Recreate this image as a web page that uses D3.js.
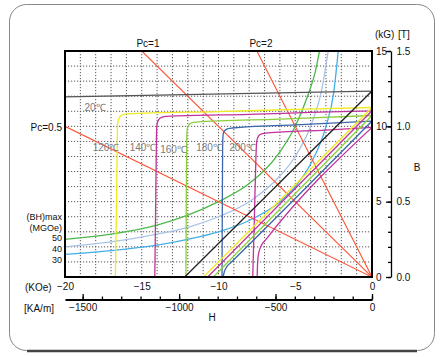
<!DOCTYPE html>
<html><head><meta charset="utf-8">
<script src="https://cdn.jsdelivr.net/npm/d3@7"></script>
<style>body{margin:0;background:#fff}svg{display:block;font-family:"Liberation Sans",Arial,sans-serif}</style>
</head><body><svg id="c" width="440" height="357"></svg>
<script>
// ---------- data (H in kOe, B in kG) ----------
const hTicksKOe = [-20, -15, -10, -5, 0];
const hTicksKAm = [-1500, -1000, -500, 0];
const hMinorKAm = d3.range(-1500, 1, 100);
const bTicksKG = [0, 5, 10, 15];
const bMinorKG = d3.range(0, 16, 1);
const bTicksT = [0.0, 0.5, 1.0, 1.5];
const temps = ["20℃", "120℃", "140℃", "160℃", "180℃", "200℃"];
const pcValues = [0.5, 1, 2];
const pcLabels = ["Pc=0.5", "Pc=1", "Pc=2"];
const bhValues = [50, 40, 30];

// intrinsic (J) curves
const j20  = [[-20, 11.96], [0, 12.34]];
const j120 = [[-16.72,0],[-16.64,5],[-16.59,9.5],[-16.57,10.2],[-16.45,10.6],[-16.25,10.76],[-15.95,10.83],[-10,10.98],[-5,11.12],[0,11.25]];
const j140 = [[-14.15,0],[-14.09,5],[-14.04,9.4],[-14.01,10.1],[-13.9,10.45],[-13.7,10.6],[-13.4,10.66],[-8,10.8],[-4,10.92],[0,11.03]];
const j160 = [[-12.12,0],[-12.1,5],[-12.07,9.0],[-12.04,9.8],[-11.93,10.1],[-11.75,10.23],[-11.45,10.28],[-6,10.48],[0,10.72]];
const j180 = [[-9.77,0],[-9.75,5],[-9.73,8.7],[-9.7,9.45],[-9.6,9.72],[-9.4,9.84],[-9.1,9.89],[-5,10.1],[0,10.35]];
const j200 = [[-7.77,0],[-7.66,4],[-7.56,8],[-7.51,9.0],[-7.4,9.35],[-7.2,9.5],[-6.8,9.56],[-3,9.75],[0,9.93]];

// normal (B) curves
const b20  = [[-12.2, 0], [0, 12.34]];
const b120 = [[-10.98, 0], [0, 11.25]];
const b140 = [[-10.7, 0], [0, 11.03]];
const b160 = [[-10.34, 0], [0, 10.72]];
const b180 = [[-9.7,0],[-9.62,0.35],[-9.45,0.7],[-9.2,0.95],[0,10.35]];
const b200 = [[-7.48,0],[-7.45,1.0],[-7.38,1.6],[-7.2,2.1],[-6.9,2.5],[0,9.93]];

// (BH)max iso-energy curves
const bh50 = [[-20,2.5],[-17,2.85],[-14,3.45],[-12,4.1],[-10,5.0],[-8,6.2],[-6,8.3],[-5,10.0],[-4.2,12.0],[-3.7,13.6],[-3.42,15]];
const bh40 = [[-20,2.0],[-17,2.33],[-14,2.85],[-12,3.3],[-10,4.0],[-8,5.0],[-6,6.7],[-5,8.0],[-4,10.0],[-3.3,12.3],[-2.85,15]];
const bh30 = [[-20,1.5],[-17,1.75],[-14,2.12],[-12,2.5],[-10,3.0],[-8,3.75],[-6,5.0],[-5,6.0],[-4,7.5],[-3,10.0],[-2.5,12.2],[-2.2,15]];

// ---------- layout / styles ----------
const L = 65, R = 372, T = 51, Bm = 277;
const svg = d3.select("#c");
const x = d3.scaleLinear().domain([-20, 0]).range([L, R]);
const y = d3.scaleLinear().domain([0, 15]).range([Bm, T]);
const xk = d3.scaleLinear().domain([-20 * 79.5775, 0]).range([L, R]);
const yT = d3.scaleLinear().domain([0, 1.5]).range([Bm, T]);

const red = "#ff5233", yellow = "#f0ea1e", magenta = "#c1339c", lgreen = "#8cce3c",
      dblue = "#3c66ae", grn = "#4cb848", lblue = "#a7c4e8", sky = "#42aee8";

// outer frame
svg.append("rect").attr("x", 9.5).attr("y", 4.5).attr("width", 425).attr("height", 346)
  .attr("rx", 17).attr("fill", "none").attr("stroke", "#888").attr("stroke-width", 1);
svg.append("path").attr("d", "M27,351H417").attr("stroke", "#444").attr("stroke-width", 2.5);

svg.append("clipPath").attr("id", "clip").append("rect")
  .attr("x", L).attr("y", T).attr("width", R - L).attr("height", Bm - T);

// grid
const grid = svg.append("g").attr("stroke", "#555").attr("stroke-dasharray", "1.2,1.8").attr("stroke-width", 1);
grid.selectAll("line.v").data(d3.range(-19, 0)).join("line")
  .attr("x1", d => x(d)).attr("x2", d => x(d)).attr("y1", T).attr("y2", Bm);
grid.selectAll("line.h").data(d3.range(1, 15)).join("line")
  .attr("x1", L).attr("x2", R).attr("y1", d => y(d)).attr("y2", d => y(d));

const plot = svg.append("g").attr("clip-path", "url(#clip)").attr("fill", "none").attr("stroke-width", 1.3);
const line = d3.line().x(d => x(d[0])).y(d => y(d[1])).curve(d3.curveMonotoneX);

// BH max curves
[[bh50, grn], [bh40, lblue], [bh30, sky]].forEach(([d, c]) =>
  plot.append("path").attr("d", line(d)).attr("stroke", c));

// load lines
pcValues.forEach(pc => {
  const hEnd = Math.max(-20, -15 / pc);
  plot.append("path").attr("d", d3.line().x(d => x(d[0])).y(d => y(d[1]))([[hEnd, -pc * hEnd], [0, 0]]))
    .attr("stroke", red).attr("stroke-width", 1.1);
});

// J curves
[[j20, "#555"], [j120, yellow], [j140, magenta], [j160, lgreen], [j180, dblue], [j200, magenta]]
  .forEach(([d, c]) => plot.append("path").attr("d", line(d)).attr("stroke", c));
// B curves
[[b20, "#222"], [b120, yellow], [b140, magenta], [b160, lgreen], [b180, dblue], [b200, magenta]]
  .forEach(([d, c]) => plot.append("path").attr("d", line(d)).attr("stroke", c));

// plot frame
svg.append("rect").attr("x", L).attr("y", T).attr("width", R - L).attr("height", Bm - T)
  .attr("fill", "none").attr("stroke", "#000").attr("stroke-width", 2);

// right B axis
const axX = 391;
svg.append("g").attr("transform", `translate(${axX},0)`)
  .call(d3.axisLeft(y).tickValues(bMinorKG).tickSize(3).tickSizeOuter(0).tickFormat(""))
  .call(g => g.selectAll("path,line").attr("stroke", "#000").attr("stroke-width", 1.3));
svg.append("g").attr("transform", `translate(${axX},0)`)
  .call(d3.axisLeft(y).tickValues(bTicksKG).tickSize(5).tickSizeOuter(0).tickFormat(d3.format("d")))
  .call(g => g.select(".domain").remove())
  .call(g => g.selectAll("line").attr("stroke", "#000").attr("stroke-width", 1.3))
  .call(g => g.selectAll("text").attr("text-anchor", "start").attr("x", -15)
    .attr("font-size", 10).attr("font-family", "Liberation Sans, Arial, sans-serif").attr("fill", "#111"));
svg.append("g").attr("transform", `translate(${axX},0)`)
  .call(d3.axisRight(yT).tickValues(bTicksT).tickSize(0).tickPadding(5.5).tickFormat(d3.format(".1f")))
  .call(g => g.select(".domain").remove())
  .call(g => g.selectAll("text").attr("font-size", 10).attr("font-family", "Liberation Sans, Arial, sans-serif").attr("fill", "#111"));

// bottom KOe labels
svg.append("g").attr("transform", `translate(0,${Bm})`)
  .call(d3.axisBottom(x).tickValues(hTicksKOe).tickSize(0).tickPadding(6).tickFormat(d3.format("d")))
  .call(g => g.select(".domain").remove())
  .call(g => g.selectAll("text").attr("font-size", 10).attr("font-family", "Liberation Sans, Arial, sans-serif").attr("fill", "#111"));

// kA/m axis
const kY = 299.5;
svg.append("g").attr("transform", `translate(0,${kY})`)
  .call(d3.axisTop(xk).tickValues(hMinorKAm).tickSize(3).tickSizeOuter(0).tickFormat(""))
  .call(g => g.select(".domain").attr("stroke-width", 2))
  .call(g => g.selectAll("line").attr("stroke-width", 1.3));
svg.append("g").attr("transform", `translate(0,${kY})`)
  .call(d3.axisTop(xk).tickValues(hTicksKAm).tickSize(5.5).tickSizeOuter(0).tickFormat(""))
  .call(g => g.select(".domain").remove())
  .call(g => g.selectAll("line").attr("stroke-width", 1.3));
svg.append("g").attr("transform", `translate(0,${kY})`)
  .call(d3.axisBottom(xk).tickValues(hTicksKAm).tickSize(0).tickPadding(4.5).tickFormat(d3.format("d")))
  .call(g => g.select(".domain").remove())
  .call(g => g.selectAll("text").attr("font-size", 10).attr("font-family", "Liberation Sans, Arial, sans-serif").attr("fill", "#111"));

// text annotations
const txt = (s, px, py, anchor, size, fill) => svg.append("text").text(s).attr("x", px).attr("y", py)
  .attr("text-anchor", anchor || "start").attr("font-size", size || 10).attr("fill", fill || "#111");
txt("(KOe)", 25, 291);
txt("[KA/m]", 24, 312);
txt("H", 212, 321, "middle");
txt("(kG)", 375, 38);
txt("[T]", 398, 38);
txt("B", 417, 171, "middle");

const pcPos = [[62, 131, "end"], [148, 47, "middle"], [261, 47, "middle"]];
pcLabels.forEach((s, i) => txt(s, pcPos[i][0], pcPos[i][1], pcPos[i][2]));

txt("(BH)max", 62, 220, "end", 9);
txt("(MGOe)", 62, 231, "end", 9);
const bhPos = [240.5, 251.5, 263];
bhValues.forEach((v, i) => txt(String(v), 62, bhPos[i], "end", 9));

const tPos = [[95, 111], [106, 151], [143, 151], [173.5, 152.5], [209.5, 151], [242.5, 151]];
temps.forEach((s, i) => txt(s, tPos[i][0], tPos[i][1], "middle", 10, "#7a7a7a"));
</script></body></html>
